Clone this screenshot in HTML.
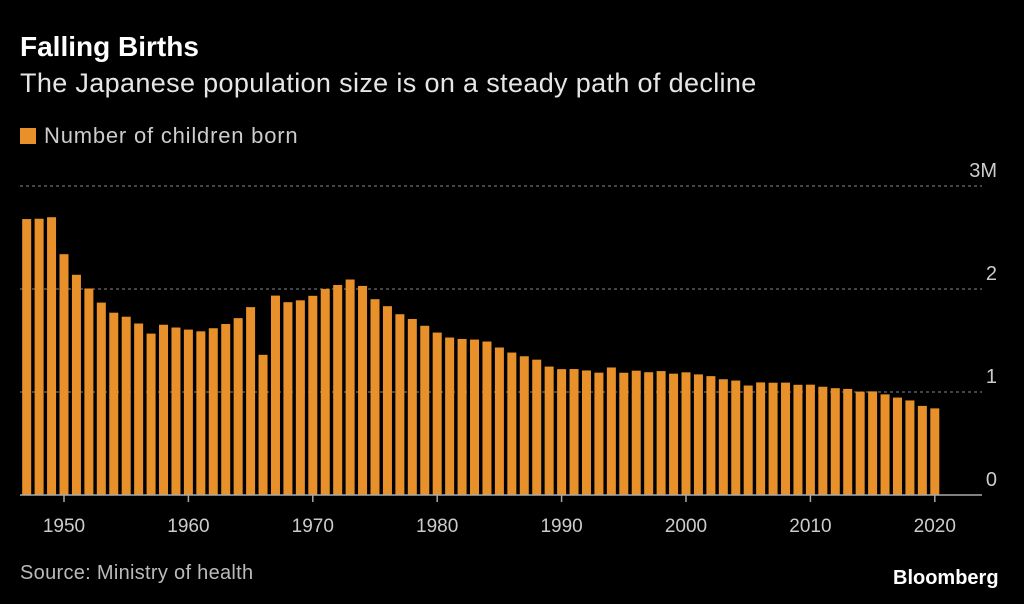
<!DOCTYPE html>
<html><head><meta charset="utf-8"><style>
body{margin:0;background:#000;width:1024px;height:604px;overflow:hidden;font-family:"Liberation Sans",sans-serif;color:#ddd}
.t{position:absolute;white-space:nowrap;line-height:1}
</style></head><body>
<div class="t" style="left:20px;top:33px;font-size:28px;font-weight:bold;color:#fff">Falling Births</div>
<div class="t" style="left:20px;top:70px;font-size:27px;letter-spacing:0.35px;color:#e6e6e6">The Japanese population size is on a steady path of decline</div>
<div class="t" style="left:20px;top:125px;font-size:22px;letter-spacing:0.8px;color:#ccc"><span style="display:inline-block;width:16px;height:16px;background:#e8912b;margin-right:8px;vertical-align:-1px"></span>Number of children born</div>
<div class="t" style="left:20px;top:563px;font-size:20px;letter-spacing:0.3px;color:#bbb">Source: Ministry of health</div>
<div class="t" style="left:893px;top:568px;font-size:20px;font-weight:bold;color:#fff">Bloomberg</div>
<svg id="c" width="1024" height="604" style="position:absolute;left:0;top:0"></svg>
<script>
const years=[];for(let y=1947;y<=2020;y++)years.push(y);
const births=[2.679,2.682,2.697,2.338,2.138,2.005,1.868,1.770,1.731,1.665,1.567,1.653,1.626,1.606,1.589,1.619,1.660,1.717,1.824,1.361,1.936,1.872,1.890,1.934,2.001,2.039,2.092,2.030,1.901,1.833,1.755,1.709,1.643,1.577,1.529,1.515,1.509,1.490,1.432,1.383,1.347,1.314,1.247,1.222,1.223,1.209,1.188,1.238,1.187,1.207,1.192,1.203,1.178,1.191,1.171,1.154,1.124,1.111,1.063,1.093,1.090,1.091,1.070,1.071,1.051,1.037,1.030,1.004,1.006,0.977,0.946,0.918,0.865,0.841];
const yTicks=[0,1,2,3];
const yTickLabels=["0","1","2","3M"];
const xTicks=[1950,1960,1970,1980,1990,2000,2010,2020];
const ns="http://www.w3.org/2000/svg",svg=document.getElementById('c');
const px=y=>64+(y-1950)*12.44;
const py=v=>495-v*103;
function mk(t,a){const e=document.createElementNS(ns,t);for(const k in a)e.setAttribute(k,a[k]);svg.appendChild(e);return e;}
yTicks.forEach((v,i)=>{
 if(v>0){const l=mk('line',{x1:20,x2:982,y1:py(v),y2:py(v),stroke:'#888','stroke-width':1,'stroke-dasharray':'3,3'});
 
 }
 const t=mk('text',{x:997,y:py(v)-9,'text-anchor':'end','font-size':20,fill:'#ccc','font-family':'Liberation Sans'});
 t.textContent=yTickLabels[i];
 
 
});
years.forEach((y,i)=>{
 const r=mk('rect',{x:px(y)-4.5,y:py(births[i]),width:9,height:births[i]*103,fill:'#e8912b'});
 
 
});
const base=mk('line',{x1:20,x2:982,y1:495,y2:495,stroke:'#aaa','stroke-width':1.5});


xTicks.forEach(y=>{
 const l=mk('line',{x1:px(y),x2:px(y),y1:495,y2:502,stroke:'#aaa','stroke-width':1.5});
 
 
 const t=mk('text',{x:px(y),y:532,'text-anchor':'middle','font-size':19,fill:'#ccc','font-family':'Liberation Sans'});
 t.textContent=y;
 
 
});
</script>
</body></html>
